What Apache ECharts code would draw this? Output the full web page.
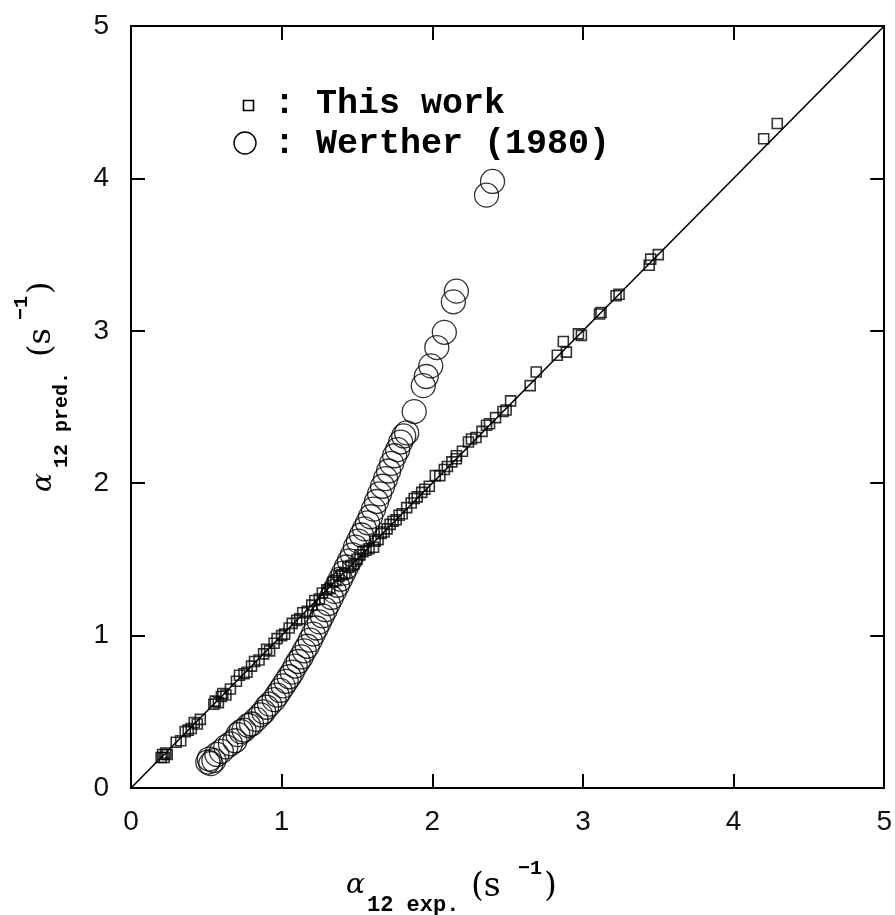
<!DOCTYPE html>
<html><head><meta charset="utf-8">
<script src="https://cdn.jsdelivr.net/npm/echarts@6/dist/echarts.min.js"></script>
<style>html,body{margin:0;padding:0;background:#fff}#c{width:895px;height:915px}</style>
</head><body><div id="c"></div>
<script>
// Tick labels
const xTicks = [0, 1, 2, 3, 4, 5];
const yTicks = [0, 1, 2, 3, 4, 5];
// Series: "This work" (exp, pred)
const thisWork = [
[0.20,0.20],[0.21,0.22],[0.22,0.20],[0.23,0.23],[0.24,0.22],[0.30,0.30],[0.33,0.31],[0.36,0.37],
[0.38,0.38],[0.40,0.39],[0.42,0.43],[0.44,0.42],[0.46,0.45],[0.55,0.55],[0.56,0.57],[0.58,0.56],
[0.60,0.60],[0.61,0.62],[0.63,0.61],[0.66,0.65],[0.70,0.70],[0.72,0.74],[0.75,0.75],[0.77,0.76],
[0.80,0.80],[0.82,0.83],[0.85,0.84],[0.88,0.88],[0.90,0.91],[0.92,0.90],[0.95,0.95],[0.97,0.98],
[1.00,1.00],[1.02,1.01],[1.05,1.05],[1.07,1.08],[1.10,1.10],[1.12,1.11],[1.14,1.15],[1.17,1.16],
[1.20,1.20],[1.22,1.23],[1.25,1.24],[1.27,1.28],[1.30,1.30],[1.32,1.31],[1.34,1.35],[1.36,1.36],
[1.38,1.39],[1.40,1.40],[1.42,1.41],[1.44,1.45],[1.46,1.46],[1.48,1.47],[1.50,1.50],[1.52,1.53],
[1.54,1.55],[1.56,1.56],[1.58,1.57],[1.61,1.58],[1.62,1.62],[1.64,1.63],[1.66,1.67],[1.68,1.68],
[1.70,1.70],[1.72,1.73],[1.74,1.75],[1.76,1.76],[1.78,1.79],[1.80,1.80],[1.83,1.84],[1.86,1.87],
[1.88,1.90],[1.90,1.91],[1.93,1.94],[1.95,1.96],[1.98,1.98],[2.02,2.05],[2.05,2.05],[2.08,2.09],
[2.10,2.11],[2.13,2.14],[2.16,2.16],[2.16,2.18],[2.20,2.21],[2.24,2.27],[2.26,2.29],[2.29,2.30],
[2.33,2.34],[2.36,2.38],[2.38,2.39],[2.42,2.43],[2.47,2.47],[2.49,2.48],[2.52,2.54],[2.65,2.64],
[2.69,2.73],[2.83,2.84],[2.89,2.86],[2.87,2.93],[2.97,2.98],[2.99,2.97],[3.11,3.11],[3.12,3.12],
[3.22,3.23],[3.24,3.24],[3.44,3.43],[3.45,3.47],[3.50,3.50],[4.20,4.26],[4.29,4.36]
];
// Series: "Werther (1980)" (exp, pred)
const werther = [
[0.51,0.17],[0.52,0.19],[0.53,0.16],[0.55,0.18],[0.57,0.22],[0.60,0.24],[0.63,0.27],[0.66,0.29],
[0.69,0.31],[0.71,0.35],[0.73,0.37],[0.75,0.38],[0.78,0.41],[0.80,0.42],[0.83,0.45],[0.86,0.48],
[0.88,0.50],[0.90,0.53],[0.92,0.55],[0.95,0.58],[0.97,0.61],[0.99,0.64],[1.01,0.67],[1.03,0.70],
[1.05,0.73],[1.07,0.76],[1.09,0.80],[1.11,0.83],[1.13,0.86],[1.15,0.90],[1.17,0.93],[1.19,0.97],
[1.21,1.01],[1.23,1.05],[1.25,1.09],[1.27,1.13],[1.29,1.17],[1.31,1.21],[1.33,1.25],[1.35,1.29],
[1.37,1.33],[1.39,1.37],[1.41,1.41],[1.43,1.45],[1.45,1.49],[1.47,1.53],[1.49,1.58],[1.51,1.62],
[1.53,1.66],[1.55,1.70],[1.57,1.74],[1.59,1.78],[1.61,1.83],[1.63,1.88],[1.65,1.93],[1.67,1.98],
[1.69,2.03],[1.71,2.08],[1.73,2.13],[1.75,2.18],[1.77,2.22],[1.79,2.27],[1.81,2.31],[1.83,2.33],
[1.88,2.47],[1.94,2.64],[1.96,2.70],[1.99,2.77],[2.03,2.89],[2.08,2.99],[2.14,3.19],[2.16,3.26],
[2.36,3.89],[2.40,3.98]
];
// Parity line y = x
const parity = [[0,0],[5,5]];

const chart = echarts.init(document.getElementById('c'), null, {renderer:'canvas'});
const tickFont = {fontFamily:'Liberation Sans', fontSize:28, color:'#111'};
const mono = 'Liberation Mono';
const serif = 'DejaVu Serif';
const gL = 131, gT = 26, gR = 9, gB = 127;
const baseAxis = {
  min:0, max:5, interval:1,
  axisLine:{show:true, onZero:false, lineStyle:{color:'#000', width:2}},
  axisTick:{show:true, inside:true, length:14, lineStyle:{color:'#000', width:2}},
  splitLine:{show:false}
};
chart.setOption({
  animation:false,
  backgroundColor:'#fff',
  grid:{left:gL, top:gT, right:gR, bottom:gB, containLabel:false},
  xAxis:[
    Object.assign({}, baseAxis, {type:'value', position:'bottom',
      axisLabel:Object.assign({margin:20, formatter:v=>xTicks.includes(v)?String(v):''}, tickFont)}),
    Object.assign({}, baseAxis, {type:'value', position:'top', axisLabel:{show:false}})
  ],
  yAxis:[
    Object.assign({}, baseAxis, {type:'value', position:'left',
      axisLabel:Object.assign({margin:22, formatter:v=>yTicks.includes(v)?String(v):''}, tickFont)}),
    Object.assign({}, baseAxis, {type:'value', position:'right', axisLabel:{show:false}})
  ],
  series:[
    {type:'line', data:parity, symbol:'none', lineStyle:{color:'#000', width:1.6}, z:1},
    {name:'This work', type:'scatter', data:thisWork, symbol:'rect', symbolSize:10,
      itemStyle:{color:'rgba(255,255,255,0)', borderColor:'#000', borderWidth:1.6}, z:3},
    {name:'Werther (1980)', type:'scatter', data:werther, symbol:'circle', symbolSize:24,
      itemStyle:{color:'rgba(255,255,255,0)', borderColor:'#000', borderWidth:1.3}, z:2}
  ],
  graphic:[
    // legend
    {type:'rect', left:241, top:98, shape:{width:10, height:10}, style:{fill:'none', stroke:'#000', lineWidth:1.6}},
    {type:'text', left:274, top:87, style:{text:': This work', font:'bold 35px '+mono, fill:'#000'}},
    {type:'circle', shape:{cx:245, cy:143, r:11}, style:{fill:'none', stroke:'#000', lineWidth:1.4}},
    {type:'text', left:274, top:127, style:{text:': Werther (1980)', font:'bold 35px '+mono, fill:'#000'}},
    // x axis title
    {type:'group', x:346, y:0, children:[
      {type:'text', x:0, y:872, style:{text:'α', font:'italic 28px '+serif, fill:'#000'}},
      {type:'text', x:21, y:894, style:{text:'12 exp.', font:'bold 22px '+mono, fill:'#000'}},
      {type:'text', x:125, y:871, style:{text:'(s', font:'33px '+serif, fill:'#000'}},
      {type:'text', x:172, y:859, style:{text:'−1', font:'bold 20px '+mono, fill:'#000'}},
      {type:'text', x:198, y:871, style:{text:')', font:'33px '+serif, fill:'#000'}}
    ]},
    // y axis title (rotated)
    {type:'group', x:30, y:492, rotation:Math.PI/2, children:[
      {type:'text', x:0, y:0, style:{text:'α', font:'italic 28px '+serif, fill:'#000'}},
      {type:'text', x:24, y:22, style:{text:'12 pred.', font:'bold 20px '+mono, fill:'#000'}},
      {type:'text', x:135, y:-4, style:{text:'(s', font:'32px '+serif, fill:'#000'}},
      {type:'text', x:172, y:-18, style:{text:'−1', font:'bold 20px '+mono, fill:'#000'}},
      {type:'text', x:198, y:-4, style:{text:')', font:'32px '+serif, fill:'#000'}}
    ]}
  ]
});
</script></body></html>
